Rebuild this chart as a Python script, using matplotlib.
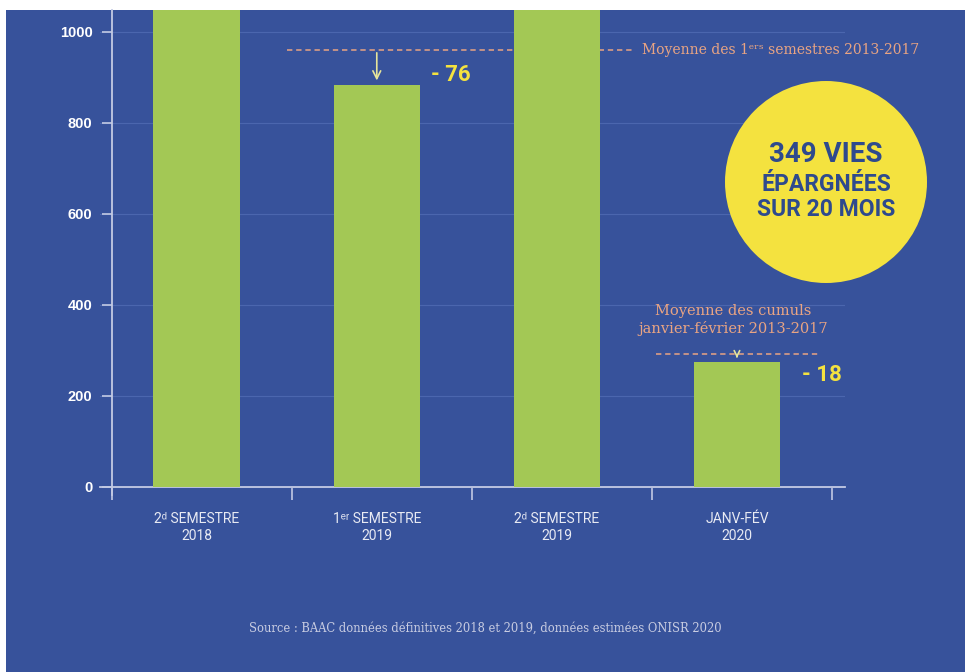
import matplotlib.pyplot as plt
from matplotlib.patches import Rectangle, Ellipse

# données
periodes = ["2ᵈ SEMESTRE\n2018", "1ᵉʳ SEMESTRE\n2019", "2ᵈ SEMESTRE\n2019", "JANV-FÉV\n2020"]
tues = [1150, 884, 1180, 275]
moyenne_s1 = 960          # moyenne des 1ers semestres 2013-2017
moyenne_janv_fev = 293    # moyenne des cumuls janvier-février 2013-2017
ecart_s1 = -76
ecart_janv_fev = -18
vies_epargnees = 349
nb_mois = 20
yticks = [0, 200, 400, 600, 800, 1000]
source = "Source : BAAC données définitives 2018 et 2019, données estimées ONISR 2020"

BLEU = "#37529B"
VERT = "#A3C855"
JAUNE = "#F4E23F"
ORANGE = "#E9A483"
AXE = "#C3CAE4"

plt.rcParams['font.family'] = ['Roboto', 'Liberation Sans', 'DejaVu Sans']

fig = plt.figure(figsize=(9.65, 6.72), dpi=100, facecolor="white")
# fond bleu (petite marge blanche en haut et à gauche)
fig.add_artist(Rectangle((6 / 965, 0), 1, 1 - 10 / 672, transform=fig.transFigure,
                         facecolor=BLEU, edgecolor="none", zorder=-10))

ax = fig.add_axes([100 / 965, 1 - 495 / 672, 745 / 965, 485 / 672])
ax.set_facecolor("none")

x = [i + 0.47 for i in range(len(periodes))]
ax.bar(x, tues, width=0.48, color=VERT, zorder=3)

ax.set_xlim(-0.067, 4.07)
ax.set_ylim(-18, 1048)

for s in ["top", "right"]:
    ax.spines[s].set_visible(False)
ax.spines["left"].set_position(("data", 0))
ax.spines["bottom"].set_position(("data", 0))
for s in ["left", "bottom"]:
    ax.spines[s].set_color(AXE)
    ax.spines[s].set_linewidth(1.3)

ax.set_yticks(yticks)
ax.set_yticklabels([str(v) for v in yticks], color="white", fontweight="bold",
                   fontsize=10.5, family=['Liberation Sans', 'DejaVu Sans'])
ax.tick_params(axis="y", length=7, width=1.2, color=AXE, pad=7)
ax.grid(axis="y", color="#4B66AE", linewidth=0.8, zorder=0)

ax.set_xticks(range(len(periodes) + 1))
ax.set_xticklabels([])
ax.tick_params(axis="x", which="major", length=9, width=1.2, color=AXE)
ax.set_xticks(x, minor=True)
ax.set_xticklabels(periodes, minor=True, color="#E8EAF3", fontsize=10,
                   linespacing=1.3)
ax.tick_params(axis="x", which="minor", length=0, pad=18)

# moyenne des 1ers semestres
ax.hlines(moyenne_s1, 0.97, 2.89, colors=ORANGE, linestyles=(0, (3.5, 2.5)),
          linewidth=1.1, zorder=1)
ax.text(2.94, moyenne_s1, "Moyenne des 1ᵉʳˢ semestres 2013-2017", color=ORANGE,
        fontsize=10, va="center", ha="left", family=['DejaVu Serif', 'DejaVu Sans'])
ax.annotate("", xy=(x[1], tues[1] + 3), xytext=(x[1], moyenne_s1),
            arrowprops=dict(arrowstyle="->", color="#E6E49A", lw=1.2,
                            mutation_scale=14), zorder=4)
ax.text(x[1] + 0.3, tues[1] + 22, f"- {abs(ecart_s1)}", color=JAUNE,
        fontsize=16, fontweight="bold", va="center", ha="left")

# moyenne janvier-février
ax.hlines(moyenne_janv_fev, 3.02, 3.92, colors=ORANGE, linestyles=(0, (3.5, 2.5)),
          linewidth=1.1, zorder=1)
ax.text(3.45, 367, "Moyenne des cumuls\njanvier-février 2013-2017", color=ORANGE,
        fontsize=10.5, va="center", ha="center", linespacing=1.2,
        family=['DejaVu Serif', 'DejaVu Sans'])
ax.annotate("", xy=(x[3], tues[3] + 2), xytext=(x[3], moyenne_janv_fev),
            arrowprops=dict(arrowstyle="->", color="#E6E49A", lw=1.2,
                            mutation_scale=10), zorder=4)
ax.text(x[3] + 0.36, tues[3] - 29, f"- {abs(ecart_janv_fev)}", color=JAUNE,
        fontsize=16, fontweight="bold", va="center", ha="left")

# pastille jaune
cx, cy, r = 826 / 965, 1 - 182 / 672, 101
fig.add_artist(Ellipse((cx, cy), 2 * r / 965, 2 * r / 672, transform=fig.transFigure,
                       facecolor=JAUNE, edgecolor="none", zorder=5))
fig.text(cx, 1 - 155 / 672, f"{vies_epargnees} VIES", color="#2E4A8D", fontsize=20,
         fontweight="bold", ha="center", va="center", zorder=6)
fig.text(cx, 1 - 197 / 672, f"ÉPARGNÉES\nSUR {nb_mois} MOIS", color="#2E4A8D",
         fontsize=16.5, fontweight="bold", ha="center", va="center",
         linespacing=1.1, zorder=6)

fig.text(485 / 965, 1 - 628 / 672, source, color="#C9CDE2", fontsize=8.3,
         ha="center", va="center", family=['DejaVu Serif', 'DejaVu Sans'])

fig.savefig("out.png", dpi=100, facecolor=fig.get_facecolor())
